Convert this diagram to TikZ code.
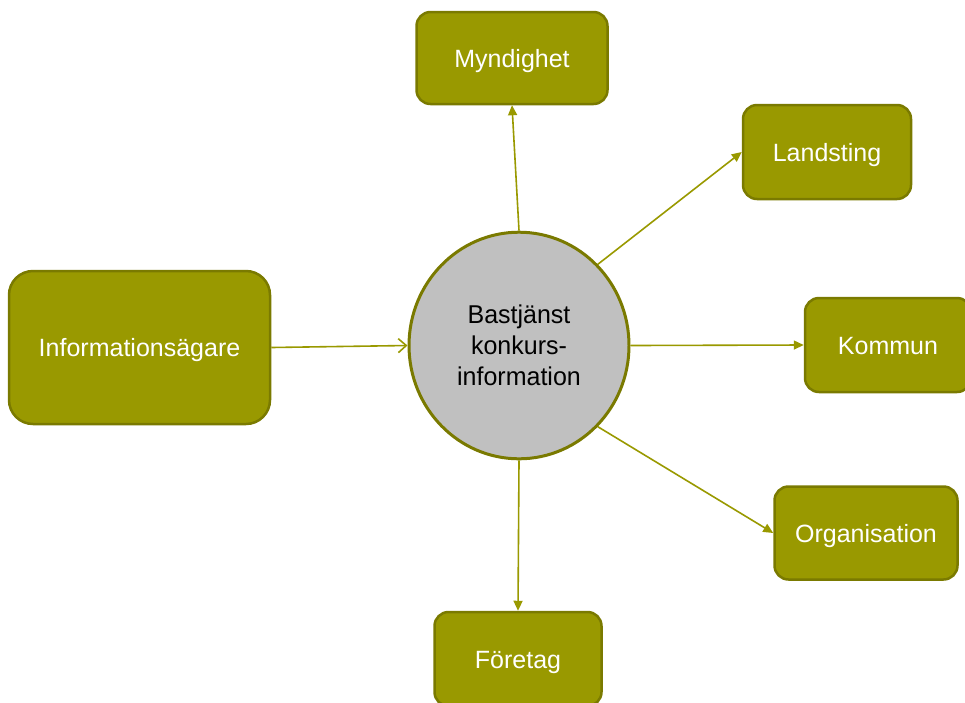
\documentclass[tikz,border=0pt]{standalone}
\usepackage{fontspec}
\setmainfont{Liberation Sans}
\usetikzlibrary{arrows.meta}
\definecolor{olivefill}{HTML}{999900}
\definecolor{olivedraw}{HTML}{7A7A00}
\definecolor{circfill}{HTML}{C0C0C0}
\tikzset{
  box/.style={draw=olivedraw, line width=2.5pt, fill=olivefill, rounded corners=14pt,
    text=white, font=\fontsize{25}{30}\selectfont, align=center, inner sep=0pt,
    text height=18pt, text depth=0pt},
  hub/.style={draw=olivedraw, line width=3pt, fill=circfill, circle, minimum size=220pt,
    inner sep=0pt, text=black, font=\fontsize{25}{30}\selectfont, align=center},
  conn/.style={draw=olivefill, line width=1.6pt, -{Triangle[length=10pt,width=9pt]}},
  connin/.style={draw=olivefill, line width=1.6pt, -{Straight Barb[length=8pt,width=14pt,line width=1.6pt]}}
}
\begin{document}
\begin{tikzpicture}[x=1pt,y=-1pt]
\useasboundingbox (0,0) rectangle (965,702);
\node[box, minimum width=191pt, minimum height=92pt] (myn) at (512,58) {Myndighet};
\node[box, minimum width=168pt, minimum height=94pt] (lan) at (827,152) {Landsting};
\node[box, minimum width=166pt, minimum height=94pt] (kom) at (888,345) {Kommun};
\node[box, minimum width=183pt, minimum height=93pt] (org) at (866,533) {Organisation};
\node[box, minimum width=167pt, minimum height=94pt] (for) at (518,659) {Företag};
\node[box, rounded corners=24pt, minimum width=261pt, minimum height=153pt] (inf) at (139.5,347.5) {Informationsägare};
\node[hub, yscale=1.03] (hub) at (519,345.5) {Bastjänst\\konkurs-\\information};
\draw[connin] (inf.east) -- (hub.west);
\draw[conn] (hub.north) -- (myn.south);
\draw[conn] (hub.45) -- (lan.west);
\draw[conn] (hub.east) -- (kom.west);
\draw[conn] (hub.-45) -- (org.west);
\draw[conn] (hub.south) -- (for.north);
\end{tikzpicture}
\end{document}
